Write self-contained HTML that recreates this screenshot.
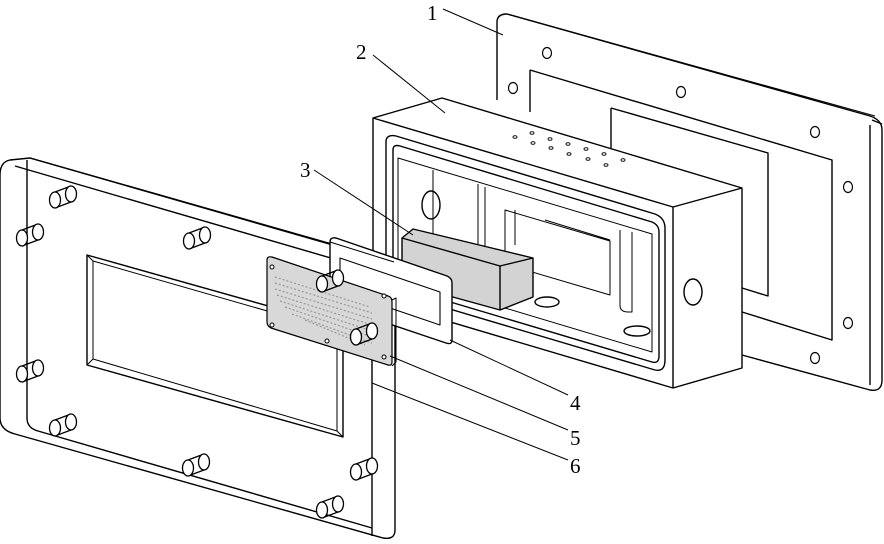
<!DOCTYPE html>
<html><head><meta charset="utf-8"><style>
html,body{margin:0;padding:0;background:#fff;width:884px;height:544px;overflow:hidden}
svg{display:block}
text{font-family:"Liberation Serif",serif;font-size:21px;fill:#000}
</style></head><body>
<svg width="884" height="544" viewBox="0 0 884 544" xmlns="http://www.w3.org/2000/svg" fill="none" stroke="#000" stroke-width="1.4" stroke-linejoin="round">
<!-- Part 1 back plate -->
<path d="M497,22 Q497,14 507,14 L870,116 Q882,120 882,130 L882,380 Q882,392 870,390 L742,355" />
<path d="M497,22 L497,100" />
<path d="M507,14 L875,116" stroke-width="1"/>
<path d="M870,125 L870,385 M872,120 L882,124"/>
<path d="M530,70 L530,112 M530,70 L832,160 L832,340 L742,312"/>
<path d="M611,108 L611,148 M611,108 L768,153 L768,296 L742,288"/>
<g stroke-width="1.2">
<ellipse cx="547" cy="53" rx="4.5" ry="5.5"/><ellipse cx="513" cy="88" rx="4.5" ry="5.5"/>
<ellipse cx="681" cy="92" rx="4.5" ry="5.5"/><ellipse cx="815" cy="132" rx="4.5" ry="5.5"/>
<ellipse cx="848" cy="187" rx="4.5" ry="5.5"/><ellipse cx="848" cy="323" rx="4.5" ry="5.5"/>
<ellipse cx="815" cy="358" rx="4.5" ry="5.5"/>
</g>
<!-- Part 2 box -->
<path d="M373,118 L442,98 L742,188 L742,368 L673,388 L373,299 Z" fill="#fff"/>
<path d="M373,118 L673,207 L742,188 M673,207 L673,388"/>
<path d="M386,142 Q386,134 396,136 L655,214 Q665,218 665,228 L665,360 Q665,372 655,370 L396,293 Q386,290 386,282 Z"/>
<path d="M393,150 Q393,144 400,146 L652,222 Q659,225 659,232 L659,356 Q659,364 652,362 L400,287 Q393,285 393,279 Z"/>
<path d="M398,158 L652,234 L652,352 L398,276 Z" stroke-width="1"/>
<path d="M433,170 L433,290 M478,184 L478,300 M485,187 L485,300" stroke-width="1"/>
<ellipse cx="431" cy="205" rx="9" ry="14"/>
<path d="M505,210 L610,241 L610,295 L505,264 Z M515,210 L515,245 M545,220 L610,240" stroke-width="1"/>
<path d="M620,230 L620,305 Q620,312 628,312 L632,312 L632,232" stroke-width="1"/>
<ellipse cx="693" cy="292" rx="9" ry="13"/>
<ellipse cx="547" cy="302" rx="12" ry="5"/>
<ellipse cx="637" cy="331" rx="13" ry="5"/>
<g stroke-width="0.9">
<ellipse cx="515" cy="137" rx="2" ry="1.3"/><ellipse cx="532" cy="133" rx="2" ry="1.3"/>
<ellipse cx="550" cy="139" rx="2" ry="1.3"/><ellipse cx="533" cy="143" rx="2" ry="1.3"/>
<ellipse cx="568" cy="144" rx="2" ry="1.3"/><ellipse cx="551" cy="148" rx="2" ry="1.3"/>
<ellipse cx="586" cy="149" rx="2" ry="1.3"/><ellipse cx="569" cy="154" rx="2" ry="1.3"/>
<ellipse cx="604" cy="154" rx="2" ry="1.3"/><ellipse cx="588" cy="159" rx="2" ry="1.3"/>
<ellipse cx="623" cy="160" rx="2" ry="1.3"/><ellipse cx="606" cy="165" rx="2" ry="1.3"/>
</g>
<!-- Part 3 block -->
<path d="M402,238 L413,229 L533,258 L533,297 L500,310 L402,283 Z" fill="#d3d3d3"/>
<path d="M402,238 L500,266 L533,258 M500,266 L500,310"/>
<!-- Part 6 big plate -->
<path d="M10,160 L30,158 L395,262 L395,530 Q395,540 383,538 L15,434 Q0,430 0,418 L0,175 Q0,162 10,160 Z" fill="#fff" fill-opacity="0.55"/>
<path d="M27,160 L27,418 Q27,428 38,431 L372,528 M30,158 L385,260 Q395,264 395,270 M372,270 L372,536 M15,166 L372,270"/>
<path d="M87,255 L343,327 L343,437 L87,365 Z" fill="#fff"/>
<path d="M93,261 L337,331 L337,431 L93,359 Z M87,255 L93,261 M343,327 L337,331 M343,437 L337,431 M87,365 L93,359" stroke-width="1"/>
<!-- Part 4 gasket -->
<path d="M330,242 Q330,237 336,238 L447,276 Q452,278 452,283 L452,340 Q452,345 446,343 L336,306 Q330,304 330,299 Z" fill="#fff"/>
<path d="M340,258 L440,292 L440,325 L340,291 Z" stroke-width="1.1"/>
<path d="M330,242 L394,262" stroke-width="1"/>
<!-- Part 5 plate -->
<path d="M267,260 Q267,256 272,257 L388,296 Q392,297 392,302 L392,362 Q392,366 388,365 L271,328 Q267,326 267,322 Z" fill="#d8d8d8" stroke-width="1.2"/>
<path d="M392,300 L396,298 L396,362 L392,366" stroke-width="1"/>
<g stroke="#999" stroke-width="1.2" stroke-dasharray="2 2">
<path d="M275,277 L370,307 M275,283 L372,313 M275,289 L372,319 M277,295 L372,325 M280,301 L372,331 M285,307 L372,337 M292,314 L372,343 M305,320 L365,345"/>
</g>
<g stroke-width="1" fill="#fff">
<circle cx="272" cy="267" r="2"/><circle cx="272" cy="325" r="2"/><circle cx="384" cy="296" r="2"/><circle cx="384" cy="357" r="2"/><circle cx="327" cy="341" r="2"/>
</g>
<!-- pins -->
<g stroke-width="1.3" fill="#fff">
<g transform="translate(55,200)"><path d="M0,-8 L16,-14 M0,8 L16,2"/><ellipse cx="16" cy="-6" rx="5.5" ry="8"/><ellipse cx="0" cy="0" rx="5.5" ry="8"/></g>
<g transform="translate(22,238)"><path d="M0,-8 L16,-14 M0,8 L16,2"/><ellipse cx="16" cy="-6" rx="5.5" ry="8"/><ellipse cx="0" cy="0" rx="5.5" ry="8"/></g>
<g transform="translate(189,241)"><path d="M0,-8 L16,-14 M0,8 L16,2"/><ellipse cx="16" cy="-6" rx="5.5" ry="8"/><ellipse cx="0" cy="0" rx="5.5" ry="8"/></g>
<g transform="translate(22,374)"><path d="M0,-8 L16,-14 M0,8 L16,2"/><ellipse cx="16" cy="-6" rx="5.5" ry="8"/><ellipse cx="0" cy="0" rx="5.5" ry="8"/></g>
<g transform="translate(55,428)"><path d="M0,-8 L16,-14 M0,8 L16,2"/><ellipse cx="16" cy="-6" rx="5.5" ry="8"/><ellipse cx="0" cy="0" rx="5.5" ry="8"/></g>
<g transform="translate(188,468)"><path d="M0,-8 L16,-14 M0,8 L16,2"/><ellipse cx="16" cy="-6" rx="5.5" ry="8"/><ellipse cx="0" cy="0" rx="5.5" ry="8"/></g>
<g transform="translate(356,472)"><path d="M0,-8 L16,-14 M0,8 L16,2"/><ellipse cx="16" cy="-6" rx="5.5" ry="8"/><ellipse cx="0" cy="0" rx="5.5" ry="8"/></g>
<g transform="translate(322,510)"><path d="M0,-8 L16,-14 M0,8 L16,2"/><ellipse cx="16" cy="-6" rx="5.5" ry="8"/><ellipse cx="0" cy="0" rx="5.5" ry="8"/></g>
<g transform="translate(356,337)"><path d="M0,-8 L16,-14 M0,8 L16,2"/><ellipse cx="16" cy="-6" rx="5.5" ry="8"/><ellipse cx="0" cy="0" rx="5.5" ry="8"/></g>
<g transform="translate(322,284)"><path d="M0,-8 L16,-14 M0,8 L16,2"/><ellipse cx="16" cy="-6" rx="5.5" ry="8"/><ellipse cx="0" cy="0" rx="5.5" ry="8"/></g>
</g>
<!-- leader lines -->
<g stroke-width="1">
<path d="M443,9 L503,35"/>
<path d="M373,55 L445,113"/>
<path d="M314,170 L413,235"/>
<path d="M450,340 L568,395"/>
<path d="M390,356 L568,430"/>
<path d="M372,383 L568,460"/>
</g>
<g stroke="none">
<text x="427" y="20">1</text>
<text x="356" y="59">2</text>
<text x="300" y="177">3</text>
<text x="570" y="410">4</text>
<text x="570" y="445">5</text>
<text x="570" y="473">6</text>
</g>
</svg>
</body></html>
